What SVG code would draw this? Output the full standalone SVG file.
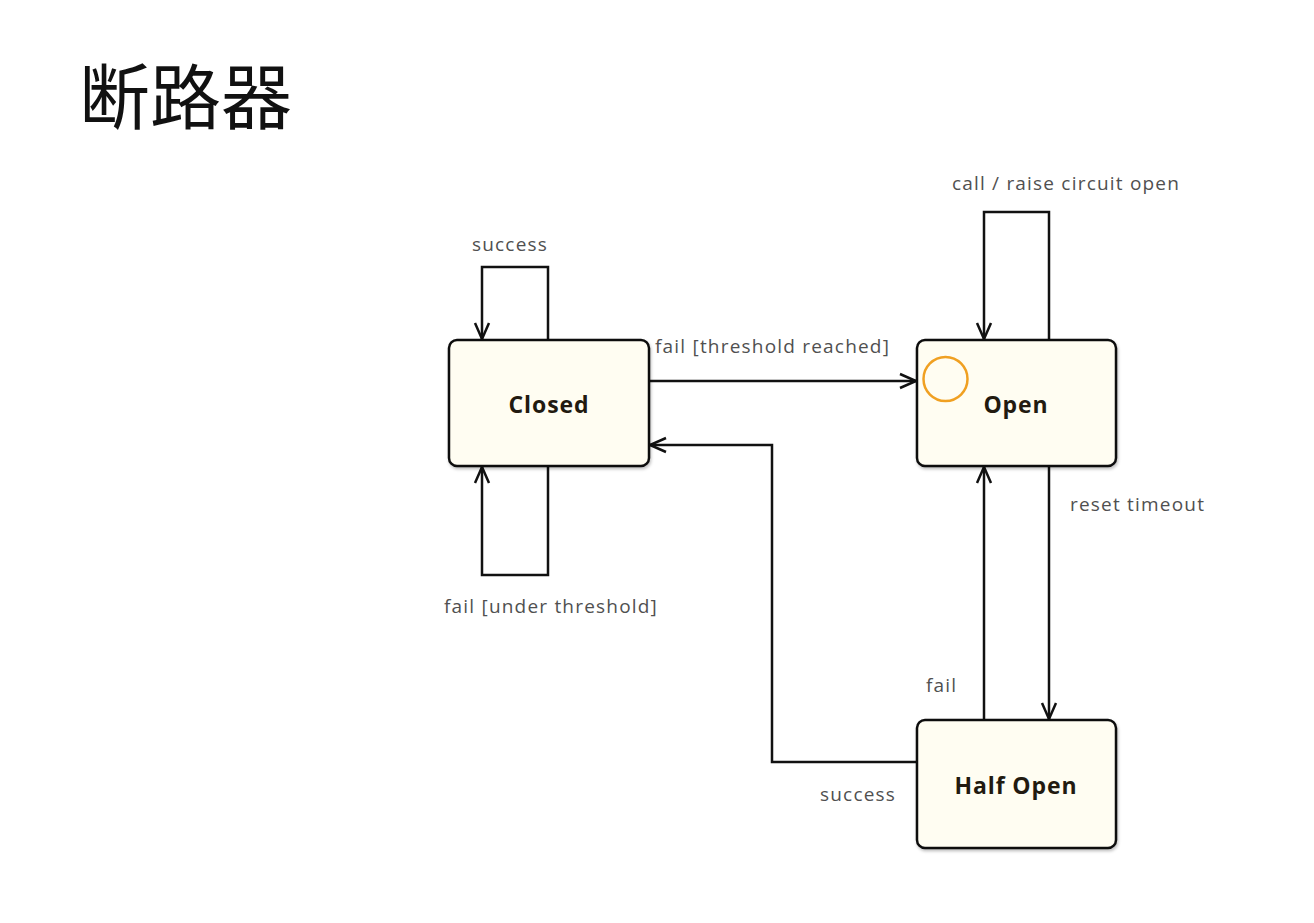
<svg xmlns="http://www.w3.org/2000/svg" width="1314" height="923" viewBox="0 0 1314 923">
<style>
.node{fill:#fffdf2;stroke:#111;stroke-width:2.5}
.name{font-family:"Open Sans","Noto Sans",sans-serif;font-weight:bold;font-size:23px;letter-spacing:0.9px;fill:#221a10;text-anchor:middle}
.lbl{font-family:"Open Sans","Noto Sans",sans-serif;font-size:19px;letter-spacing:1.2px;fill:#505050}
.edge{fill:none;stroke:#111;stroke-width:2.5;marker-end:url(#arr)}
.title{font-family:"Noto Sans CJK SC",sans-serif;font-size:71px;fill:#111}
</style>
<defs>
<marker id="arr" viewBox="0 0 20 20" refX="18" refY="10" markerWidth="20" markerHeight="20" markerUnits="userSpaceOnUse" orient="auto">
<path d="M2,3 L18,10 L2,17" fill="none" stroke="#111" stroke-width="2.5"/>
</marker>
<filter id="sh" x="-10%" y="-10%" width="120%" height="120%">
<feDropShadow dx="1" dy="2" stdDeviation="1.5" flood-opacity="0.25"/>
</filter>
</defs>
<rect width="1314" height="923" fill="#fff"/>
<text class="title" x="79" y="123">断路器</text>
<g id="connectors">
<path class="edge" d="M548,340 V267 H482 V339"/>
<path class="edge" d="M548,466 V575 H482 V467"/>
<path class="edge" d="M649,381 H916"/>
<path class="edge" d="M917,762 H772 V445 H650"/>
<path class="edge" d="M1049,340 V212 H984 V339"/>
<path class="edge" d="M1049,466 V719"/>
<path class="edge" d="M984,720 V467"/>
<text class="lbl" x="510" y="251" text-anchor="middle">success</text>
<text class="lbl" x="551" y="613" text-anchor="middle">fail [under threshold]</text>
<text class="lbl" x="655" y="353">fail [threshold reached]</text>
<text class="lbl" x="1066" y="190" text-anchor="middle">call / raise circuit open</text>
<text class="lbl" x="1070" y="511">reset timeout</text>
<text class="lbl" x="926" y="692">fail</text>
<text class="lbl" x="820" y="801">success</text>
</g>
<g id="closed">
<rect class="node" x="449" y="340" width="200" height="126" rx="8" filter="url(#sh)"/>
<text class="name" x="549" y="413">Closed</text>
</g>
<g id="open">
<rect class="node" x="917" y="340" width="199" height="126" rx="8" filter="url(#sh)"/>
<circle cx="945.5" cy="379" r="22" fill="none" stroke="#f0a022" stroke-width="2.5"/>
<text class="name" x="1016" y="413">Open</text>
</g>
<g id="halfopen">
<rect class="node" x="917" y="720" width="199" height="128" rx="8" filter="url(#sh)"/>
<text class="name" x="1016" y="794">Half Open</text>
</g>
</svg>
